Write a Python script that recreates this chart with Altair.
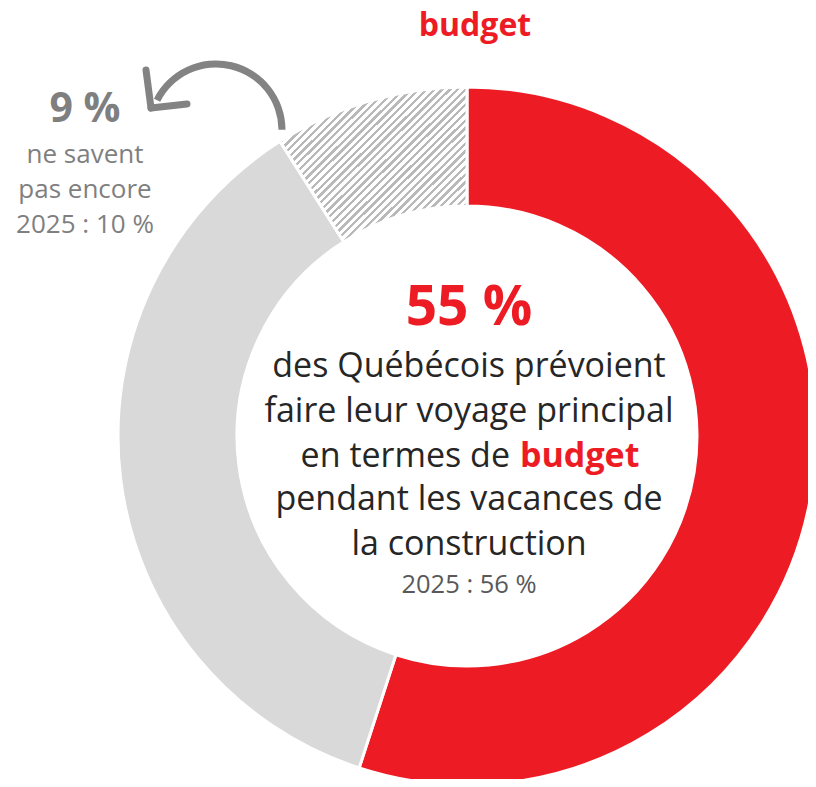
import altair as alt
import pandas as pd

# ---- data ----
categories = ["budget", "autre", "ne savent pas encore"]
values = [55, 36, 9]
rank = [1, 2, 3]

title_word = "budget"
center_big = "55 %"
center_lines = ["des Québécois prévoient", "faire leur voyage principal"]
center_line3 = ["en termes de", "budget"]
center_lines_after = ["pendant les vacances de", "la construction"]
center_prev = "2025 : 56 %"
side_big = "9 %"
side_lines = ["ne savent", "pas encore", "2025 : 10 %"]

# ---- style ----
RED = "#ED1C24"
LIGHT = "#D9D9D9"
HATCH = "#B9B9B9"
DARK = "#262626"
SIDE = "#7F7F7F"
FONT = "Open Sans"
OX, OY = 8, 8  # page margin offset

df = pd.DataFrame({"cat": categories, "value": values, "rank": rank})

N = 49
stops = []
for k in range(N):
    a = k / N
    m = (k + 0.43) / N
    b = (k + 1) / N
    stops += [
        {"offset": a, "color": HATCH},
        {"offset": m, "color": HATCH},
        {"offset": m, "color": "#FFFFFF"},
        {"offset": b, "color": "#FFFFFF"},
    ]
hatch = {"gradient": "linear", "x1": 0, "y1": 0, "x2": 1.2, "y2": 1.0, "stops": stops}

cx, cy = 467 - OX, 436 - OY

donut = alt.Chart(df).mark_arc(radius=349, radius2=230, stroke="white", strokeWidth=3).encode(
    theta=alt.Theta("value:Q", stack=True),
    order=alt.Order("rank:Q"),
    color=alt.condition(
        alt.datum.cat == categories[2],
        alt.value(hatch),
        alt.Color("cat:N", scale=alt.Scale(domain=categories, range=[RED, LIGHT, HATCH]), legend=None),
    ),
    x=alt.value(cx),
    y=alt.value(cy),
)

one = pd.DataFrame({"k": [0]})

arrow_arc = alt.Chart(one).mark_arc(
    radius=69.5, radius2=62.5, theta=5.18, theta2=7.85, color="#838383"
).encode(x=alt.value(216 - OX), y=alt.value(130 - OY))

leg1 = alt.Chart(one).mark_rule(color="#838383", strokeWidth=7, strokeCap="round").encode(
    x=alt.value(146 - OX), y=alt.value(70 - OY), x2=alt.value(151 - OX), y2=alt.value(108 - OY)
)
leg2 = alt.Chart(one).mark_rule(color="#838383", strokeWidth=7, strokeCap="round").encode(
    x=alt.value(151 - OX), y=alt.value(108 - OY), x2=alt.value(187 - OX), y2=alt.value(104 - OY)
)


def txt(s, x, y, size, color, weight="normal", align="center"):
    return alt.Chart(pd.DataFrame({"t": [s]})).mark_text(
        font=FONT, fontSize=size, color=color, fontWeight=weight, align=align, baseline="alphabetic"
    ).encode(text="t:N", x=alt.value(x - OX), y=alt.value(y - OY))


texts = [
    txt(title_word, 475, 36, 32, RED, "bold"),
    txt(center_big, 469, 325, 55, RED, "bold"),
    txt(center_lines[0], 469, 377, 34, DARK),
    txt(center_lines[1], 469, 422, 34, DARK),
    txt(center_line3[0], 510, 467, 34, DARK, align="right"),
    txt(center_line3[1], 520, 467, 34, RED, "bold", align="left"),
    txt(center_lines_after[0], 469, 510, 34, DARK),
    txt(center_lines_after[1], 469, 555, 34, DARK),
    txt(center_prev, 469, 593, 25.5, "#595959"),
    txt(side_big, 85, 122, 41, SIDE, "bold"),
    txt(side_lines[0], 85, 163, 26, SIDE),
    txt(side_lines[1], 85, 198, 26, SIDE),
    txt(side_lines[2], 85, 233, 26, SIDE),
]

chart = alt.layer(donut, arrow_arc, leg1, leg2, *texts).properties(
    width=800, height=771, padding=0, background="white",
    autosize=alt.AutoSizeParams(type="none"),
).configure_view(stroke=None)

chart.save("out.html", embed_options={"renderer": "svg", "actions": False})
